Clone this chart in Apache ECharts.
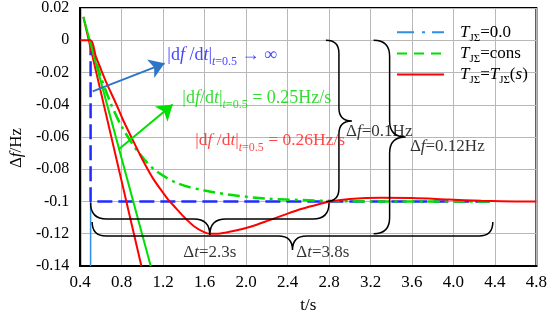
<!DOCTYPE html>
<html><head><meta charset="utf-8">
<script src="https://cdn.jsdelivr.net/npm/echarts@6/dist/echarts.min.js"></script>
<style>html,body{margin:0;padding:0;background:#fff}#c{width:550px;height:326px}</style>
</head><body><div id="c"></div>
<script>
// ---------- data ----------
// T_JΣ = T_JΣ(s) (red response)
const redT = [0.4, 0.5, 0.55, 0.6, 0.65, 0.7, 0.75, 0.81, 0.9, 1.0, 1.1, 1.2, 1.25, 1.3, 1.4, 1.5, 1.6, 1.65, 1.75, 1.9, 2.05, 2.22, 2.4, 2.54, 2.7, 2.81, 3.0, 3.3, 3.6, 3.95, 4.27, 4.6, 4.8];
const redF = [0, 0, -0.01, -0.018, -0.026, -0.033, -0.04, -0.049, -0.061, -0.074, -0.0855, -0.0947, -0.099, -0.1025, -0.1095, -0.1155, -0.1192, -0.12, -0.1198, -0.118, -0.1155, -0.1117, -0.1075, -0.1045, -0.1017, -0.1, -0.0984, -0.0976, -0.0979, -0.0988, -0.0996, -0.1, -0.1];
// T_JΣ = cons (green dash-dot)
const greenT = [0.5, 0.55, 0.6, 0.7, 0.8, 0.95, 1.12, 1.35, 1.6, 1.9, 2.22, 2.54, 2.85, 3.2, 4.4];
const greenF = [0, -0.0125, -0.023, -0.040, -0.0535, -0.0685, -0.0805, -0.089, -0.0932, -0.0963, -0.0983, -0.0991, -0.0997, -0.1, -0.1];
// T_JΣ = 0.0 (blue step)
const blueT = [0.5, 0.5, 4.35];
const blueF = [0, -0.1, -0.1];
const lightBlueT = [0.5, 0.5];
const lightBlueF = [-0.1, -0.14];
// tangent lines at t = 0.5
const redTanT = [0.43, 0.99];
const redTanF = [0.0145, -0.14];
const greenTanT = [0.43, 1.08];
const greenTanF = [0.0145, -0.14];
// arrows [t1, f1, t2, f2]
const blueArrow = [0.52, -0.0317, 1.214, -0.0143];
const greenArrow = [0.772, -0.0676, 1.292, -0.0399];
// braces [t1, f1, t2, f2]
const braceData = [
  [2.77, 0, 2.77, -0.1],
  [3.23, 0, 3.23, -0.12],
  [0.5, -0.101, 2.8, -0.101],
  [0.515, -0.1127, 4.38, -0.1127]
];
// annotation anchor points [t, f]
const labelPos = [
  [1.235, -0.0092],
  [1.38, -0.036],
  [1.505, -0.0622],
  [2.96, -0.0569],
  [3.575, -0.0662],
  [1.39, -0.1317],
  [2.48, -0.1317]
];
const labelText = [
  '{B||d}{Bi|f}{B| /d}{Bi|t}{B||}{Bsi|t}{Bs|=0.5}{B| → ∞}',
  '{G||d}{Gi|f}{G|/d}{Gi|t}{G||}{Gsi|t}{Gs|=0.5}{G| = 0.25Hz/s}',
  '{R||d}{Ri|f}{R| /d}{Ri|t}{R||}{Rsi|t}{Rs|=0.5}{R| = 0.26Hz/s}',
  '{K|Δ}{Ki|f}{K|=0.1Hz}',
  '{K|Δ}{Ki|f}{K|=0.12Hz}',
  '{K|Δ}{Ki|t}{K|=2.3s}',
  '{K|Δ}{Ki|t}{K|=3.8s}'
];
const legendNames = ['T0', 'Tc', 'Ts'];
const legendText = {
  T0: '{g|}{i|T}{s|JΣ}{n|=0.0}',
  Tc: '{g|}{i|T}{s|JΣ}{n|=cons}',
  Ts: '{g|}{i|T}{s|JΣ}{n|=}{i|T}{s|JΣ}{n|(}{i|s}{n|)}'
};

// ---------- styles ----------
const FONT = 'Liberation Serif, Times New Roman, serif';
const braceDir = ['right', 'right', 'down', 'down'];
const braceR = [13, 16, 16, 14];
const zip = (a, b) => a.map((v, i) => [v, b[i]]);

function richSet(key, color, size) {
  const o = {};
  o[key] = {color: color, fontFamily: FONT, fontSize: size, lineHeight: 26};
  o[key + 'i'] = {color: color, fontFamily: FONT, fontSize: size, fontStyle: 'italic', lineHeight: 26};
  o[key + 's'] = {color: color, fontFamily: FONT, fontSize: 12, lineHeight: 10, verticalAlign: 'bottom'};
  o[key + 'si'] = {color: color, fontFamily: FONT, fontSize: 12, fontStyle: 'italic', lineHeight: 10, verticalAlign: 'bottom'};
  return o;
}
const labelRich = Object.assign({},
  richSet('B', '#1010FF', 18), richSet('G', '#00D400', 18),
  richSet('R', '#FF1A1A', 17.5), richSet('K', '#000000', 17));

const chart = echarts.init(document.getElementById('c'), null, {renderer: 'canvas'});

function braceItem(params, api) {
  const i = params.dataIndex;
  const p1 = api.coord([api.value(0), api.value(1)]);
  const p2 = api.coord([api.value(2), api.value(3)]);
  const r = braceR[i];
  let d;
  if (braceDir[i] === 'right') {
    const xe = (p1[0] + p2[0]) / 2, ya = p1[1], yb = p2[1], ym = (ya + yb) / 2;
    d = `M${xe} ${ya} Q${xe + r} ${ya} ${xe + r} ${ya + r} L${xe + r} ${ym - r} Q${xe + r} ${ym} ${xe + 2 * r} ${ym} Q${xe + r} ${ym} ${xe + r} ${ym + r} L${xe + r} ${yb - r} Q${xe + r} ${yb} ${xe} ${yb}`;
  } else {
    const ye = (p1[1] + p2[1]) / 2, xa = p1[0], xb = p2[0], xm = (xa + xb) / 2;
    d = `M${xa} ${ye} Q${xa} ${ye + r} ${xa + r} ${ye + r} L${xm - r} ${ye + r} Q${xm} ${ye + r} ${xm} ${ye + 2 * r} Q${xm} ${ye + r} ${xm + r} ${ye + r} L${xb - r} ${ye + r} Q${xb} ${ye + r} ${xb} ${ye}`;
  }
  return {type: 'path', shape: {pathData: d}, style: {stroke: '#000', fill: null, lineWidth: 1.5}};
}

const option = {
  animation: false,
  grid: {left: 74, right: 11, top: 6, bottom: 60, show: true, borderColor: '#000', borderWidth: 2, backgroundColor: 'transparent'},
  legend: {
    orient: 'vertical', left: 396, top: 23, padding: 0, itemGap: 1, itemWidth: 47, itemHeight: 23,
    selectedMode: false, data: legendNames,
    itemStyle: {opacity: 0},
    formatter: n => legendText[n],
    textStyle: {
      rich: {
        g: {width: 11},
        i: {fontFamily: FONT, fontSize: 17, fontStyle: 'italic', color: '#000', lineHeight: 22},
        n: {fontFamily: FONT, fontSize: 17, color: '#000', lineHeight: 22},
        s: {fontFamily: FONT, fontSize: 11, color: '#000', lineHeight: 10, verticalAlign: 'bottom'}
      }
    }
  },
  xAxis: {
    type: 'value', min: 0.4, max: 4.8, interval: 0.4,
    name: 't/s', nameLocation: 'middle', nameGap: 31,
    nameTextStyle: {fontFamily: FONT, fontSize: 17, color: '#000'},
    axisLine: {show: true, onZero: false, lineStyle: {color: '#000', width: 2}},
    axisTick: {show: false},
    axisLabel: {fontFamily: FONT, fontSize: 17, color: '#000', margin: 8, formatter: v => v.toFixed(1)},
    splitLine: {show: true, lineStyle: {color: '#b8b8b8', width: 1}}
  },
  yAxis: {
    type: 'value', min: -0.14, max: 0.02, interval: 0.02,
    name: '{n|Δ}{i|f}{n|/Hz}', nameLocation: 'middle', nameGap: 51,
    nameTextStyle: {padding: [0, 22, 0, 0], rich: {
      n: {fontFamily: FONT, fontSize: 17, color: '#000'},
      i: {fontFamily: FONT, fontSize: 17, color: '#000', fontStyle: 'italic'}}},
    axisLine: {show: true, onZero: false, lineStyle: {color: '#000', width: 2}},
    axisTick: {show: false},
    axisLabel: {fontFamily: FONT, fontSize: 16, color: '#000', margin: 11,
      formatter: v => String(Math.round(v * 100) / 100)},
    splitLine: {show: true, lineStyle: {color: '#b8b8b8', width: 1}}
  },
  series: [
    // legend-only entries
    {name: 'T0', type: 'line', data: [], symbol: 'none', color: '#2E8FE6', lineStyle: {color: '#2E8FE6', width: 2, type: [17, 8, 3, 7]}},
    {name: 'Tc', type: 'line', data: [], symbol: 'none', color: '#00E000', lineStyle: {color: '#00E000', width: 2.5, type: [10, 7]}},
    {name: 'Ts', type: 'line', data: [], symbol: 'none', color: '#FF0000', lineStyle: {color: '#FF0000', width: 2, type: 'solid'}},
    // plotted curves
    {type: 'line', data: zip(lightBlueT, lightBlueF), symbol: 'none', silent: true, lineStyle: {color: '#2E8FE6', width: 1.5}},
    {type: 'line', data: zip(blueT, blueF), symbol: 'none', silent: true, lineStyle: {color: '#1F2BFF', width: 2.5, type: [15, 6]}},
    {type: 'line', data: zip(greenT, greenF), symbol: 'none', silent: true, smooth: 0.3, lineStyle: {color: '#00E000', width: 2.5, type: [12, 5, 3, 5]}},
    {type: 'line', data: zip(redTanT, redTanF), symbol: 'none', silent: true, lineStyle: {color: '#FF0000', width: 2}},
    {type: 'line', data: zip(greenTanT, greenTanF), symbol: 'none', silent: true, lineStyle: {color: '#00E000', width: 2}},
    {type: 'line', data: zip(redT, redF), symbol: 'none', silent: true, smooth: 0.3, lineStyle: {color: '#FF0000', width: 2}},
    // arrows
    {type: 'line', data: [], silent: true, markLine: {silent: true, symbol: ['none', 'arrow'], symbolSize: 15, label: {show: false},
      data: [
        [{coord: [blueArrow[0], blueArrow[1]], lineStyle: {color: '#2E75C8', width: 2, type: 'solid'}, itemStyle: {color: '#2E75C8'}}, {coord: [blueArrow[2], blueArrow[3]]}],
        [{coord: [greenArrow[0], greenArrow[1]], lineStyle: {color: '#00E000', width: 2, type: 'solid'}, itemStyle: {color: '#00E000'}}, {coord: [greenArrow[2], greenArrow[3]]}]
      ]}},
    // braces
    {type: 'custom', renderItem: braceItem, data: braceData, encode: {x: [0, 2], y: [1, 3]}, silent: true, z: 5},
    // text annotations
    {type: 'scatter', symbolSize: 1, itemStyle: {color: 'transparent'}, silent: true, z: 6,
      label: {show: true, position: 'right', distance: 0, rich: labelRich},
      data: labelPos.map((p, i) => ({value: p, label: {formatter: labelText[i]}}))}
  ]
};
chart.setOption(option);
</script></body></html>
